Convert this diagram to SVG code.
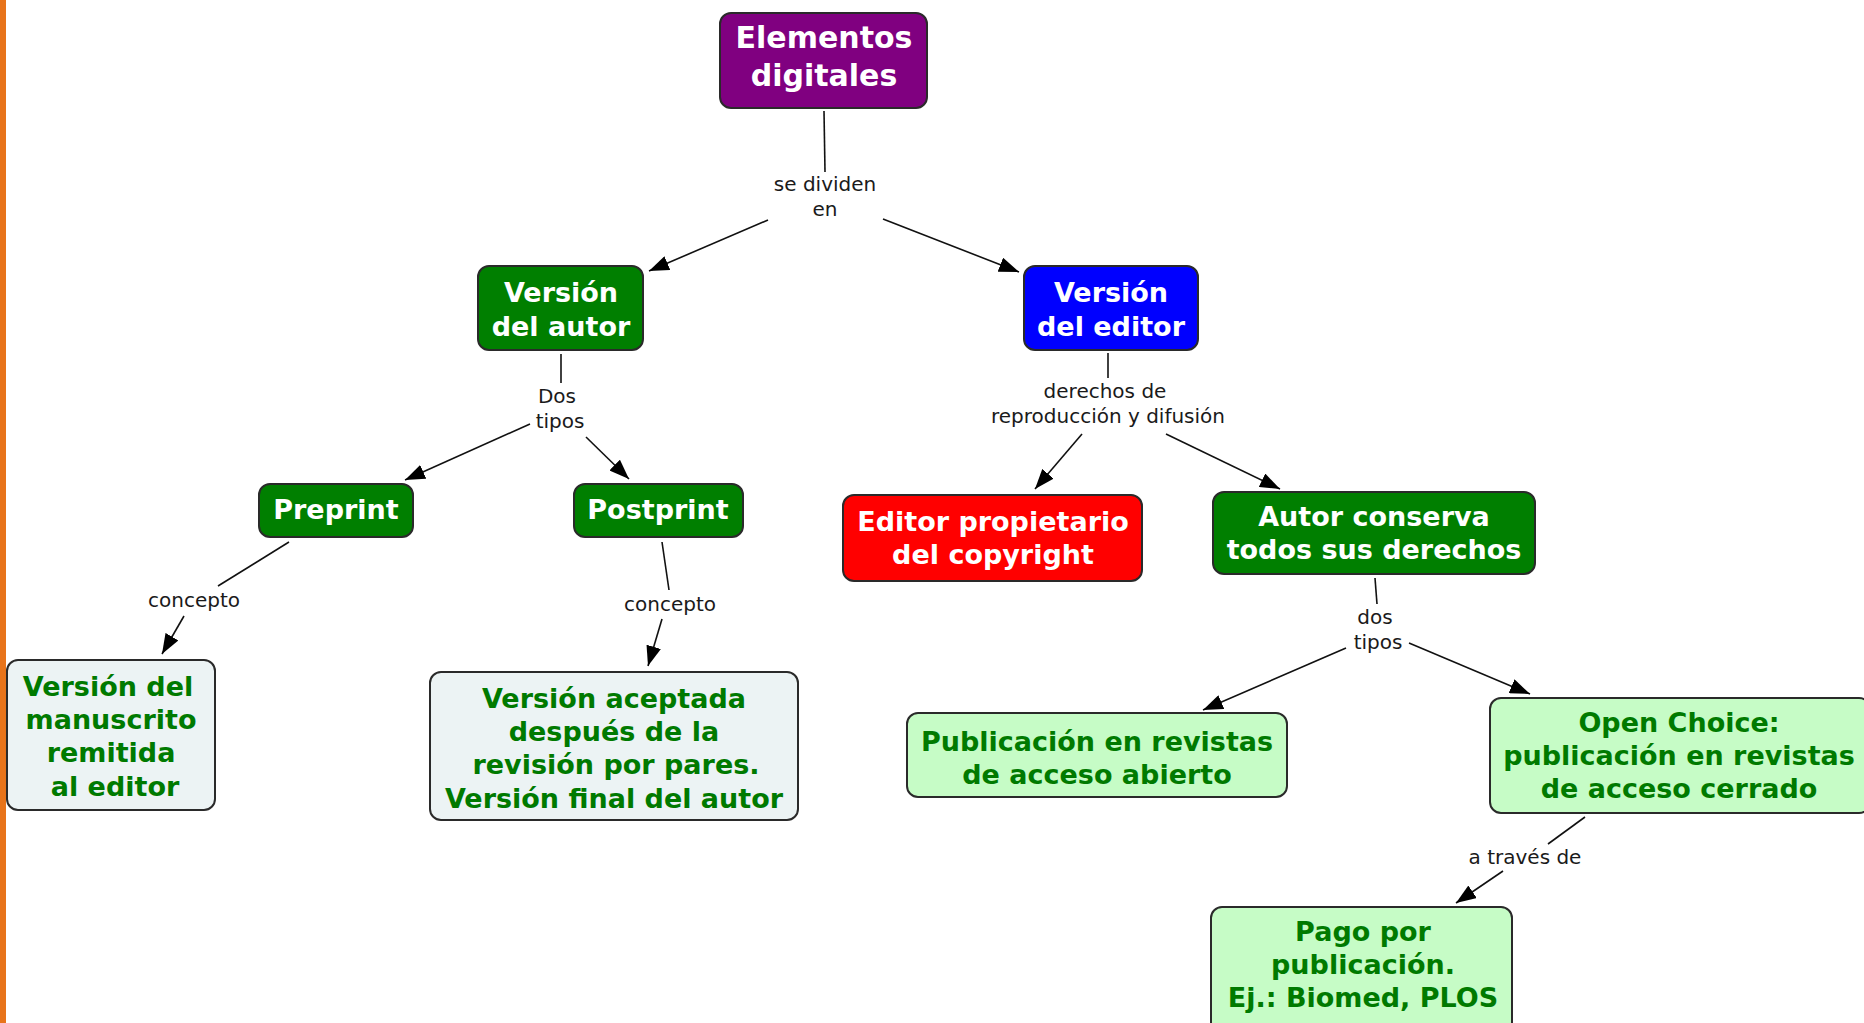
<svg xmlns="http://www.w3.org/2000/svg" width="1864" height="1023" viewBox="0 0 1864 1023">
<style>
.node rect{stroke:#2a2a2a;stroke-width:2}
.t{font-family:"DejaVu Sans","Verdana",sans-serif;font-weight:bold;font-size:27px;text-anchor:middle}
.w{fill:#ffffff}
.g{fill:#007a00}
.lbl{font-family:"DejaVu Sans","Verdana",sans-serif;font-size:20px;fill:#1a1a1a;text-anchor:middle}
.c line{stroke:#111;stroke-width:1.6}
</style>
<defs>
<marker id="arr" viewBox="0 0 20 15" refX="20" refY="7.5" markerWidth="20" markerHeight="15" markerUnits="userSpaceOnUse" orient="auto">
<path d="M0,0 L20,7.5 L0,15 z" fill="#000"/>
</marker>
</defs>
<rect x="0" y="0" width="1864" height="1023" fill="#ffffff"/>
<rect x="0" y="0" width="6" height="1023" fill="#e8741a"/>

<g id="connectors" class="c">
<line x1="824" y1="111" x2="825" y2="172"/>
<line x1="768" y1="220" x2="649" y2="271" marker-end="url(#arr)"/>
<line x1="883" y1="219" x2="1019" y2="272" marker-end="url(#arr)"/>
<line x1="561" y1="354" x2="561" y2="383"/>
<line x1="530" y1="424" x2="405" y2="480" marker-end="url(#arr)"/>
<line x1="586" y1="437" x2="629" y2="479" marker-end="url(#arr)"/>
<line x1="289" y1="542" x2="218" y2="586"/>
<line x1="184" y1="616" x2="162" y2="654" marker-end="url(#arr)"/>
<line x1="662" y1="542" x2="669" y2="590"/>
<line x1="662" y1="619" x2="648" y2="666" marker-end="url(#arr)"/>
<line x1="1108" y1="353" x2="1108" y2="378"/>
<line x1="1082" y1="434" x2="1035" y2="489" marker-end="url(#arr)"/>
<line x1="1166" y1="434" x2="1280" y2="489" marker-end="url(#arr)"/>
<line x1="1375" y1="578" x2="1377" y2="604"/>
<line x1="1346" y1="648" x2="1203" y2="710" marker-end="url(#arr)"/>
<line x1="1409" y1="643" x2="1530" y2="694" marker-end="url(#arr)"/>
<line x1="1585" y1="817" x2="1548" y2="844"/>
<line x1="1503" y1="871" x2="1456" y2="903" marker-end="url(#arr)"/>
</g>

<g id="labels">
<text class="lbl" x="825" y="191">se dividen</text>
<text class="lbl" x="825" y="216">en</text>
<text class="lbl" x="557" y="403">Dos</text>
<text class="lbl" x="560" y="428">tipos</text>
<text class="lbl" x="194" y="607">concepto</text>
<text class="lbl" x="670" y="611">concepto</text>
<text class="lbl" x="1105" y="398">derechos de</text>
<text class="lbl" x="1108" y="423">reproducción y difusión</text>
<text class="lbl" x="1375" y="624">dos</text>
<text class="lbl" x="1378" y="649">tipos</text>
<text class="lbl" x="1525" y="864">a través de</text>
</g>

<g id="n-elementos" class="node">
<rect x="720" y="13" width="207" height="95" rx="11" fill="#800080"/>
<text class="t w" x="824" y="48" style="font-size:30px">Elementos</text>
<text class="t w" x="824" y="86" style="font-size:30px">digitales</text>
</g>
<g id="n-autor" class="node">
<rect x="478" y="266" width="165" height="84" rx="11" fill="#007f00"/>
<text class="t w" x="561" y="302">Versión</text>
<text class="t w" x="561" y="336">del autor</text>
</g>
<g id="n-editor" class="node">
<rect x="1024" y="266" width="174" height="84" rx="11" fill="#0000ff"/>
<text class="t w" x="1111" y="302">Versión</text>
<text class="t w" x="1111" y="336">del editor</text>
</g>
<g id="n-preprint" class="node">
<rect x="259" y="484" width="154" height="53" rx="11" fill="#007f00"/>
<text class="t w" x="336" y="519">Preprint</text>
</g>
<g id="n-postprint" class="node">
<rect x="574" y="484" width="169" height="53" rx="11" fill="#007f00"/>
<text class="t w" x="658" y="519">Postprint</text>
</g>
<g id="n-manuscrito" class="node">
<rect x="7" y="660" width="208" height="150" rx="11" fill="#ecf3f4"/>
<text class="t g" x="108" y="696">Versión del</text>
<text class="t g" x="111" y="729">manuscrito</text>
<text class="t g" x="111" y="762">remitida</text>
<text class="t g" x="115" y="796">al editor</text>
</g>
<g id="n-aceptada" class="node">
<rect x="430" y="672" width="368" height="148" rx="11" fill="#ecf3f4"/>
<text class="t g" x="614" y="708">Versión aceptada</text>
<text class="t g" x="614" y="741">después de la</text>
<text class="t g" x="616" y="774">revisión por pares.</text>
<text class="t g" x="614" y="808">Versión final del autor</text>
</g>
<g id="n-propietario" class="node">
<rect x="843" y="495" width="299" height="86" rx="11" fill="#ff0000"/>
<text class="t w" x="993" y="531">Editor propietario</text>
<text class="t w" x="993" y="564">del copyright</text>
</g>
<g id="n-conserva" class="node">
<rect x="1213" y="492" width="322" height="82" rx="11" fill="#007f00"/>
<text class="t w" x="1374" y="526">Autor conserva</text>
<text class="t w" x="1374" y="559">todos sus derechos</text>
</g>
<g id="n-abierto" class="node">
<rect x="907" y="713" width="380" height="84" rx="11" fill="#c6fcc6"/>
<text class="t g" x="1097" y="751">Publicación en revistas</text>
<text class="t g" x="1097" y="784">de acceso abierto</text>
</g>
<g id="n-openchoice" class="node">
<rect x="1490" y="698" width="380" height="115" rx="11" fill="#c6fcc6"/>
<text class="t g" x="1679" y="732">Open Choice:</text>
<text class="t g" x="1679" y="765">publicación en revistas</text>
<text class="t g" x="1679" y="798">de acceso cerrado</text>
</g>
<g id="n-pago" class="node">
<rect x="1211" y="907" width="301" height="130" rx="11" fill="#c6fcc6"/>
<text class="t g" x="1363" y="941">Pago por</text>
<text class="t g" x="1363" y="974">publicación.</text>
<text class="t g" x="1363" y="1007">Ej.: Biomed, PLOS</text>
</g>
</svg>
